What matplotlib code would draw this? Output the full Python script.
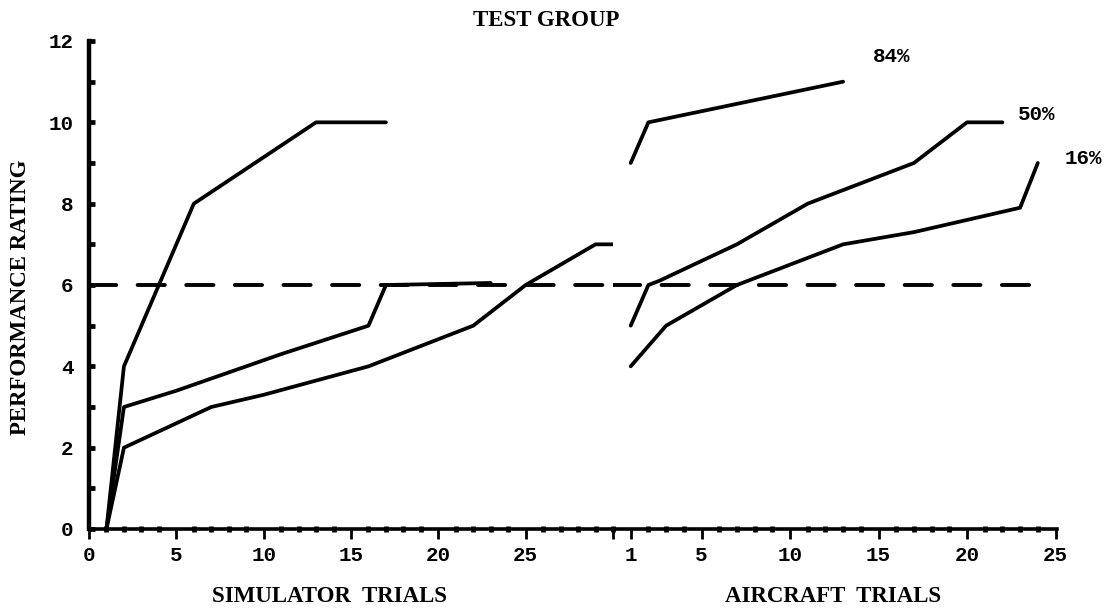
import matplotlib
matplotlib.use("Agg")
import matplotlib.pyplot as plt
from matplotlib.ticker import MultipleLocator, FixedLocator

# ---- data ----
sim_84_x = [1, 2, 6, 13, 17]
sim_84_y = [0, 4, 8, 10, 10]
sim_50_x = [1, 2, 5, 11, 16, 17, 23]
sim_50_y = [0, 3, 3.4, 4.3, 5, 6, 6.05]
sim_16_x = [1, 2, 7, 10, 16, 22, 25, 29, 30]
sim_16_y = [0, 2, 3, 3.3, 4, 5, 6, 7, 7]

air_84_x = [1, 2, 13]
air_84_y = [9, 10, 11]
air_50_x = [1, 2, 2.6, 7, 11, 17, 20, 22]
air_50_y = [5, 6, 6.1, 7, 8, 9, 10, 10]
air_16_x = [1, 3, 7, 13, 17, 23, 24]
air_16_y = [4, 5, 6, 7, 7.3, 7.9, 9]

criterion = 6
sim_crit_span = [0, 30]
air_crit_span = [0, 23.7]

sim_ticks = [0, 5, 10, 15, 20, 25, 30]
sim_labels = ["0", "5", "10", "15", "20", "25", ""]
air_ticks = [1, 5, 10, 15, 20, 25]
air_labels = ["1", "5", "10", "15", "20", "25"]
y_ticks = [0, 2, 4, 6, 8, 10, 12]

curve_labels = ["84%", "50%", "16%"]

# ---- drawing ----
MONO = ["Liberation Mono", "DejaVu Sans"]
SERIF = ["Liberation Serif", "DejaVu Serif"]
plt.rcParams["font.family"] = MONO
plt.rcParams["font.weight"] = "bold"

W, H = 1117, 613
fig = plt.figure(figsize=(W / 100, H / 100), dpi=100)
axL = fig.add_axes([89 / W, 84 / H, 524 / W, 488 / H])
axR = fig.add_axes([613 / W, 84 / H, 444 / W, 488 / H], sharey=axL)

LW = 2.7
line_kw = dict(color="black", lw=LW, solid_capstyle="round", solid_joinstyle="round")
dash_kw = dict(color="black", lw=2.8, linestyle=(0, (7.0, 5.5)), dash_capstyle="round")

for xs, ys in [(sim_84_x, sim_84_y), (sim_50_x, sim_50_y), (sim_16_x, sim_16_y)]:
    axL.plot(xs, ys, **line_kw)
for xs, ys in [(air_84_x, air_84_y), (air_50_x, air_50_y), (air_16_x, air_16_y)]:
    axR.plot(xs, ys, **line_kw)

axL.plot(sim_crit_span, [criterion, criterion], **dash_kw)
axR.plot(air_crit_span, [criterion, criterion], **dash_kw)

axL.set_xlim(0, 30)
axR.set_xlim(0, 444 / 17.7)
axL.set_ylim(0, 12)

for ax in (axL, axR):
    for s in ("top", "right"):
        ax.spines[s].set_visible(False)
    ax.spines["bottom"].set_linewidth(2.6)
    ax.patch.set_alpha(0)
axR.spines["left"].set_visible(False)
axL.spines["left"].set_linewidth(3.2)

axL.xaxis.set_major_locator(FixedLocator(sim_ticks))
axL.set_xticklabels(sim_labels)
axL.xaxis.set_minor_locator(MultipleLocator(1))
axR.xaxis.set_major_locator(FixedLocator(air_ticks))
axR.set_xticklabels(air_labels)
axR.xaxis.set_minor_locator(MultipleLocator(1))

axL.yaxis.set_major_locator(FixedLocator(y_ticks))
axL.yaxis.set_minor_locator(MultipleLocator(1))
axL.set_yticklabels([str(v) for v in y_ticks])
axR.tick_params(axis="y", which="both", left=False, labelleft=False)

for ax in (axL, axR):
    ax.tick_params(axis="x", which="major", direction="out", length=7, width=2,
                   pad=5, labelsize=15)
    ax.tick_params(axis="x", which="minor", direction="inout", length=4, width=3.4)
axL.tick_params(axis="y", which="major", direction="in", length=4, width=3.4,
                pad=11, labelsize=15)
axL.tick_params(axis="y", which="minor", direction="in", length=4, width=3.4)

# texts
title_kw = dict(ha="center", va="center", fontsize=16.5, family=SERIF, weight="bold")
fig.text(546 / W, 1 - 21 / H, "TEST GROUP", **title_kw)
fig.text(329 / W, 1 - 597 / H, "SIMULATOR  TRIALS", **title_kw)
fig.text(833 / W, 1 - 597 / H, "AIRCRAFT  TRIALS", **title_kw)
fig.text(21 / W, 1 - 297 / H, "PERFORMANCE RATING", rotation=90, **title_kw)

label_pos = [(892, 57), (1037, 115), (1083, 158)]
for txt, (px, py) in zip(curve_labels, label_pos):
    fig.text(px / W, 1 - py / H, txt, ha="center", va="center", fontsize=15)

fig.savefig("out.png", dpi=100, facecolor="white")
